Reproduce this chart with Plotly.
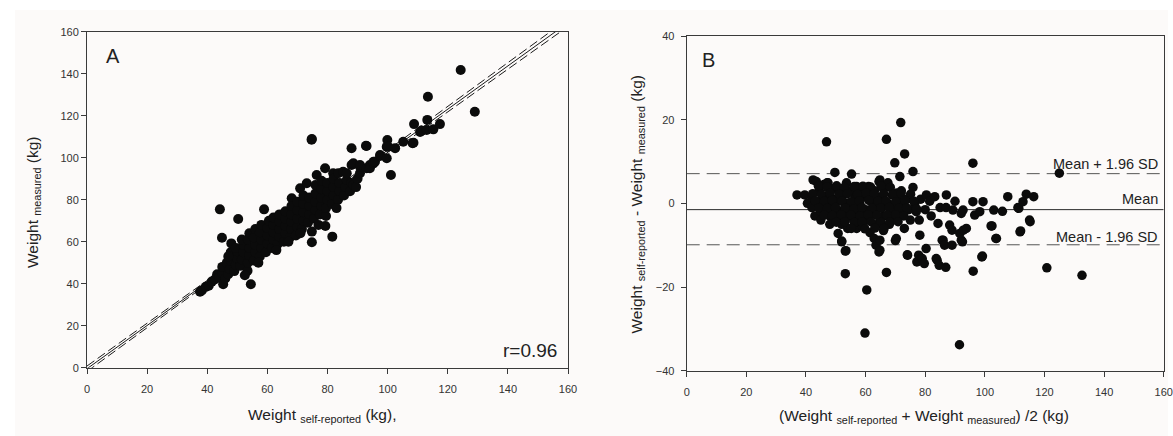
import plotly.graph_objects as go

# ---------------- Panel A data: self-reported (x) vs measured (y) ----------------
a_self = [37.6, 38.2, 39.5, 40.5, 41.5, 42.5, 43.3, 44.0,
          45.3, 45.0, 45.0, 44.9, 46.0, 46.5,
          47.0, 47.5, 47.8, 47.8, 48.0,
          49.0, 49.5, 50.0, 50.0, 50.3, 49.5,
          51.0, 51.5, 52.0, 52.0, 51.5,
          53.4, 54.5, 53.5, 54.0, 54.0, 53.5, 54.0,
          55.5, 56.0, 56.0, 55.5, 56.0,
          57.5, 58.0, 58.0, 57.5, 58.0, 58.9,
          59.5, 60.0, 60.0, 60.0, 60.5,
          61.5, 62.0, 62.0, 62.0, 62.0,
          63.5, 64.0, 64.0, 64.0, 64.0,
          65.5, 66.0, 66.0, 66.0, 66.0,
          67.5, 68.0, 68.0, 68.0, 68.1, 68.0,
          69.5, 70.0, 70.0, 70.0, 70.0, 70.9,
          71.5, 72.0, 72.0, 72.0, 72.0,
          73.1, 73.5, 74.0, 74.0, 74.0, 74.8, 74.8, 74.7,
          75.5, 76.0, 76.0, 76.0, 76.4, 76.0,
          77.5, 78.0, 78.0, 78.0, 78.0,
          79.3, 79.5, 79.5, 80.0, 80.0, 80.0, 79.2,
          81.6, 81.5, 82.0, 82.0, 81.9, 82.0,
          83.5, 84.0, 84.0, 83.6,
          85.5, 86.0, 86.4, 85.2, 86.4,
          87.5, 88.0, 88.6, 88.0, 88.6, 88.0,
          89.5, 90.0, 90.8, 90.8, 90.8,
          92.8, 93.0, 93.0, 94.1, 94.1, 95.3, 95.3, 95.8,
          97.5, 97.5, 99.7, 99.9, 99.7, 100.2, 101.1,
          102.5, 105.2, 108.3, 108.6, 108.8, 110.8, 111.3,
          113.0, 113.2, 113.4, 115.2, 117.4, 124.3, 129.0,
          44.2, 74.8, 47.0, 52.5, 57.0, 63.0, 67.0, 71.0, 77.0, 83.0]
a_meas = [36.2, 36.8, 38.5, 39.0, 41.0, 42.0, 44.5, 43.0,
          39.7, 45.0, 48.0, 61.9, 42.5, 50.0,
          44.5, 47.0, 51.0, 55.0, 59.2,
          46.0, 49.0, 52.0, 55.5, 70.8, 57.0,
          48.5, 51.5, 55.0, 58.5, 61.0,
          46.2, 39.7, 50.0, 53.5, 57.0, 61.0, 64.0,
          51.0, 55.0, 58.5, 62.0, 66.0,
          53.0, 57.0, 61.0, 64.5, 68.0, 75.4,
          55.0, 59.0, 63.0, 66.5, 70.0,
          57.0, 61.0, 64.5, 68.0, 71.5,
          59.0, 62.5, 66.0, 69.5, 73.0,
          60.0, 64.0, 67.5, 71.0, 74.5,
          62.0, 66.0, 69.5, 73.0, 80.7, 77.0,
          63.0, 67.0, 71.0, 75.0, 79.0, 85.4,
          66.0, 70.0, 74.0, 78.0, 82.0,
          87.8, 69.0, 73.0, 77.0, 81.0, 59.7, 64.8, 108.6,
          71.0, 75.0, 79.0, 83.0, 91.8, 87.0,
          73.0, 77.0, 81.0, 85.0, 89.0,
          67.5, 72.2, 76.0, 80.0, 84.0, 88.0, 95.0,
          62.4, 78.0, 82.0, 86.0, 92.6, 90.0,
          80.0, 84.0, 88.0, 92.6,
          82.0, 86.0, 89.4, 93.3, 92.6,
          84.0, 88.0, 87.0, 96.5, 97.3, 104.5,
          86.0, 90.0, 92.6, 95.7, 96.5,
          105.7, 95.0, 105.6, 96.5, 95.0, 97.3, 98.1, 98.1,
          100.8, 101.3, 99.7, 108.4, 105.2, 105.2, 91.8,
          104.5, 107.6, 106.9, 107.1, 116.0, 112.2, 112.9,
          113.2, 118.0, 129.0, 113.5, 116.0, 141.8, 121.9,
          75.4, 108.9, 53.0, 44.0, 50.0, 56.0, 60.0, 64.0, 68.0, 76.0]

# regression line and its confidence band
reg_x = [0, 160]
reg_y = [-0.5, 164.3]
ci_x = [0, 62, 160]
ci_upper = [0.8, 64.0, 166.1]
ci_lower = [-1.8, 62.8, 162.5]

# ---------------- Panel B data: Bland-Altman ----------------
b_mean = [37.0, 39.6, 40.5, 42.0, 42.4, 43.5, 42.0, 43.0,
          44.5, 44.5, 45.0, 45.0, 46.0, 46.9, 47.1, 47.4,
          47.5, 47.5, 48.0, 48.0, 49.7, 49.0, 49.5, 49.5,
          50.5, 50.8, 51.0, 51.0, 51.5, 52.0, 52.0, 52.0, 52.5,
          53.2, 53.2, 53.4, 53.6, 53.5, 54.0, 54.0, 55.3, 55.0,
          55.5, 56.0, 56.5, 57.0, 57.0, 57.0,
          58.0, 58.5, 59.0, 59.0, 59.8, 60.0, 60.0, 60.4,
          61.0, 61.0, 61.5, 62.0, 62.0, 62.9, 63.0, 63.5,
          64.0, 64.0, 64.5, 64.5, 64.8, 64.8, 64.8, 65.0, 66.0, 66.0, 66.0,
          67.0, 67.0, 67.5, 67.5, 68.0, 68.0, 69.0, 69.8, 69.0,
          70.0, 70.3, 70.5, 71.0, 71.5, 71.8, 72.0, 72.0,
          73.1, 73.0, 74.0, 74.1, 74.0, 74.5, 75.0, 75.9, 75.9,
          76.5, 77.0, 77.2, 77.8, 78.2, 78.0, 78.5, 79.0, 79.7, 80.3, 80.4, 80.0,
          81.5, 82.0, 83.2, 83.7, 84.0, 84.3, 84.7, 85.0, 85.7, 86.0, 86.5, 86.9,
          87.1, 87.0, 88.2, 89.0, 89.0, 89.3, 90.0, 91.5, 91.6, 92.1, 92.1, 92.5, 92.7, 92.8, 93.8,
          96.0, 96.0, 96.1, 96.6, 98.3, 99.2, 99.4, 99.0,
          102.1, 102.4, 103.0, 103.7, 103.9, 105.9, 107.7, 111.1, 111.4, 111.8, 112.0,
          112.8, 113.9, 115.0, 115.2, 116.4, 120.8, 125.0, 132.6,
          46.0, 48.5, 50.0, 53.0, 55.0, 56.5, 58.0, 60.5, 62.5, 65.5, 68.5, 70.5, 72.5,
          # dense core of the cloud
          44.2, 47.1, 50.3, 52.8, 56.2, 59.1, 61.7, 65.2, 68.3,
          42.3, 45.2, 48.1, 51.2, 53.9, 57.3, 60.2, 62.8, 66.1, 69.2, 71.9, 75.1,
          43.1, 46.2, 48.8, 52.1, 55.2, 57.9, 61.1, 64.2, 66.8, 70.1, 73.2, 76.2,
          44.3, 47.2, 49.9, 53.2, 56.1, 58.8, 62.1, 65.1, 67.9, 71.2, 73.8, 77.1,
          46.1, 48.9, 51.8, 55.1, 58.2, 60.9, 63.8, 67.2, 70.1, 72.8,
          50.2, 53.1, 56.2, 58.9, 61.8, 65.2, 68.1, 70.9,
          55.2, 59.8, 63.1, 66.2]
b_diff = [2.0, 2.0, 0.0, 1.5, 5.6, 5.2, -1.0, -3.0,
          3.0, 0.5, -2.0, -4.0, 4.5, 14.7, 4.9, 4.9,
          2.0, -0.5, -3.0, -5.0, 7.4, 3.5, 1.0, -1.5,
          -4.0, -7.2, 3.0, 0.5, -2.0, -9.0, -9.2, -5.0, 2.0,
          -11.4, -16.8, -11.3, 4.9, 0.0, -3.0, -6.0, 7.0, 3.0,
          -1.0, -4.0, 1.5, 4.0, -2.5, -6.0,
          0.0, 3.0, -3.0, -5.5, -31.0, 1.5, -1.5, -20.7,
          4.0, -4.0, -7.0, 0.5, -2.5, -8.4, 3.0, -10.0,
          -1.0, -5.0, 5.2, -11.6, 5.6, -8.8, -11.2, 1.5, -3.0, 3.5, -6.5,
          -16.5, 15.3, 4.9, 0.0, -2.5, -5.0, 2.0, 9.7, -1.0,
          -8.9, -8.4, -4.0, 0.5, 6.4, 19.3, 3.0, -2.5,
          11.8, -6.0, -12.3, -12.4, 1.0, -1.5, -4.0, 7.6, 3.8,
          0.0, -2.0, -14.0, -12.4, -7.6, -4.0, 1.0, -13.2, -14.4, -10.8, 2.0, -1.5,
          0.5, -3.0, 1.6, -13.2, -13.6, -4.8, -14.8, -1.0, -8.8, -8.8, -10.0, -15.3,
          2.0, -1.0, -5.2, -10.0, -6.4, -1.6, 0.5, -33.8, -7.2, -2.4, -8.8, -9.2, -1.6, -6.4, -6.0,
          9.6, 0.4, -16.2, -2.8, -2.0, -12.6, 0.4, -12.8,
          -5.4, -5.4, -1.6, -8.4, -8.4, -1.9, 1.6, -1.0, -1.2, -6.8, -6.6,
          0.4, 2.2, -4.0, -4.4, 1.6, -15.4, 7.2, -17.2,
          -0.5, 1.0, -3.5, -1.0, -2.0, -4.5, 2.0, -3.5, 1.5, -1.0, -3.5, 2.5, -0.5,
          # dense core of the cloud
          4.1, 3.9, 4.2, 3.8, 4.0, 4.1, 3.9, 4.2, 3.8,
          2.3, 2.1, 2.4, 2.2, 2.3, 2.1, 2.4, 2.2, 2.3, 2.1, 2.4, 2.2,
          0.6, 0.5, 0.7, 0.6, 0.4, 0.6, 0.7, 0.5, 0.6, 0.4, 0.7, 0.5,
          -1.1, -1.2, -1.0, -1.1, -1.3, -1.0, -1.2, -1.1, -1.0, -1.2, -1.1, -1.3,
          -2.8, -2.9, -2.7, -2.8, -3.0, -2.7, -2.9, -2.8, -2.7, -3.0,
          -4.5, -4.4, -4.6, -4.5, -4.4, -4.6, -4.5, -4.4,
          -6.0, -6.1, -5.9, -6.0]

bias = -1.5
loa_upper = 7.1
loa_lower = -9.9
line_x = [0, 160]

ticks_x = [0, 20, 40, 60, 80, 100, 120, 140, 160]
ticks_a_y = [0, 20, 40, 60, 80, 100, 120, 140, 160]
ticks_b_y = [-40, -20, 0, 20, 40]

FONT = "Liberation Sans, Arial, Helvetica, sans-serif"
W, H = 1173, 436
BG = "#fcfaf9"
AX = "#3a3a3a"
TXT = "#222222"

fig = go.Figure()

# Panel A
fig.add_trace(go.Scatter(x=reg_x, y=reg_y, mode="lines",
                         line=dict(color="#1a1a1a", width=1), xaxis="x", yaxis="y",
                         showlegend=False, hoverinfo="skip"))
fig.add_trace(go.Scatter(x=ci_x, y=ci_upper, mode="lines",
                         line=dict(color="#1a1a1a", width=1, dash="9px,4px"), xaxis="x", yaxis="y",
                         showlegend=False, hoverinfo="skip"))
fig.add_trace(go.Scatter(x=ci_x, y=ci_lower, mode="lines",
                         line=dict(color="#1a1a1a", width=1, dash="9px,4px"), xaxis="x", yaxis="y",
                         showlegend=False, hoverinfo="skip"))
fig.add_trace(go.Scatter(x=a_self, y=a_meas, mode="markers",
                         marker=dict(color="#0b0b0b", size=10, line=dict(width=0)),
                         xaxis="x", yaxis="y", showlegend=False))

# Panel B
fig.add_trace(go.Scatter(x=line_x, y=[bias, bias], mode="lines",
                         line=dict(color="#2a2a2a", width=1), xaxis="x2", yaxis="y2",
                         showlegend=False, hoverinfo="skip"))
fig.add_trace(go.Scatter(x=line_x, y=[loa_upper, loa_upper], mode="lines",
                         line=dict(color="#555555", width=1, dash="13px,7px"), xaxis="x2", yaxis="y2",
                         showlegend=False, hoverinfo="skip"))
fig.add_trace(go.Scatter(x=line_x, y=[loa_lower, loa_lower], mode="lines",
                         line=dict(color="#555555", width=1, dash="13px,7px"), xaxis="x2", yaxis="y2",
                         showlegend=False, hoverinfo="skip"))
fig.add_trace(go.Scatter(x=b_mean, y=b_diff, mode="markers",
                         marker=dict(color="#0b0b0b", size=9.5, line=dict(width=0)),
                         xaxis="x2", yaxis="y2", showlegend=False))

def axis_common():
    return dict(showgrid=False, zeroline=False, showline=True, linecolor=AX, linewidth=1,
                mirror=True, ticks="outside", ticklen=5, tickwidth=1, tickcolor=AX,
                automargin=False,
                tickfont=dict(family=FONT, size=11, color="#333333"))

ax_a_x = axis_common()
ax_a_x.update(domain=[87 / W, 568 / W], range=[0, 160], tickvals=ticks_x, anchor="y",
              ticklabelstandoff=6)
ax_a_y = axis_common()
ax_a_y.update(domain=[1 - 367.7 / H, 1 - 31.7 / H], range=[0, 160], tickvals=ticks_a_y, anchor="x")
ax_b_x = axis_common()
ax_b_x.update(domain=[686.7 / W, 1163.7 / W], range=[0, 160], tickvals=ticks_x, anchor="y2",
              ticklabelstandoff=6)
ax_b_y = axis_common()
ax_b_y.update(domain=[1 - 370.7 / H, 1 - 36 / H], range=[-40, 40], tickvals=ticks_b_y, anchor="x2",
              ticklabelstandoff=4)

annotations = [
    dict(text="A", x=5.7, y=148.5, xref="x", yref="y", xanchor="left", yanchor="middle",
         showarrow=False, font=dict(family=FONT, size=20, color=TXT)),
    dict(text="r=0.96", x=156.9, y=8.4, xref="x", yref="y", xanchor="right", yanchor="middle",
         showarrow=False, font=dict(family=FONT, size=19, color=TXT)),
    dict(text="B", x=4.5, y=34.2, xref="x2", yref="y2", xanchor="left", yanchor="middle",
         showarrow=False, font=dict(family=FONT, size=20, color=TXT)),
    dict(text="Mean + 1.96 SD", x=158.8, y=9.5, xref="x2", yref="y2", xanchor="right", yanchor="middle",
         showarrow=False, font=dict(family=FONT, size=14.5, color=TXT)),
    dict(text="Mean", x=158.8, y=1.1, xref="x2", yref="y2", xanchor="right", yanchor="middle",
         showarrow=False, font=dict(family=FONT, size=14.5, color=TXT)),
    dict(text="Mean - 1.96 SD", x=158.8, y=-8.0, xref="x2", yref="y2", xanchor="right", yanchor="middle",
         showarrow=False, font=dict(family=FONT, size=14.5, color=TXT)),
    # axis titles
    dict(text="Weight <sub>self-reported</sub> (kg),", x=322 / W, y=1 - 415 / H, xref="paper", yref="paper",
         xanchor="center", yanchor="middle", showarrow=False, font=dict(family=FONT, size=15.5, color=TXT)),
    dict(text="Weight <sub>measured</sub> (kg)", x=33 / W, y=1 - 202 / H, xref="paper", yref="paper",
         xanchor="center", yanchor="middle", textangle=-90, showarrow=False,
         font=dict(family=FONT, size=15.5, color=TXT)),
    dict(text="(Weight <sub>self-reported</sub> + Weight <sub>measured</sub>) /2 (kg)", x=924 / W, y=1 - 416 / H,
         xref="paper", yref="paper", xanchor="center", yanchor="middle", showarrow=False,
         font=dict(family=FONT, size=15.5, color=TXT)),
    dict(text="Weight <sub>self-reported</sub> - Weight <sub>measured</sub> (kg)", x=637 / W, y=1 - 204.5 / H,
         xref="paper", yref="paper", xanchor="center", yanchor="middle", textangle=-90, showarrow=False,
         font=dict(family=FONT, size=15.5, color=TXT)),
]

fig.update_layout(
    width=W, height=H,
    margin=dict(l=0, r=0, t=0, b=0, pad=0),
    paper_bgcolor="white",
    plot_bgcolor=BG,
    xaxis=ax_a_x, yaxis=ax_a_y, xaxis2=ax_b_x, yaxis2=ax_b_y,
    annotations=annotations,
    shapes=[dict(type="rect", xref="paper", yref="paper", x0=15 / W, x1=1168 / W, y0=0, y1=1 - 10 / H,
                 fillcolor=BG, line=dict(width=0), layer="below")],
    font=dict(family=FONT, color=TXT),
    showlegend=False,
)

fig.write_html("out.html", config={"displayModeBar": False},
               post_script="document.body.style.margin='0';document.body.style.overflow='hidden';")
